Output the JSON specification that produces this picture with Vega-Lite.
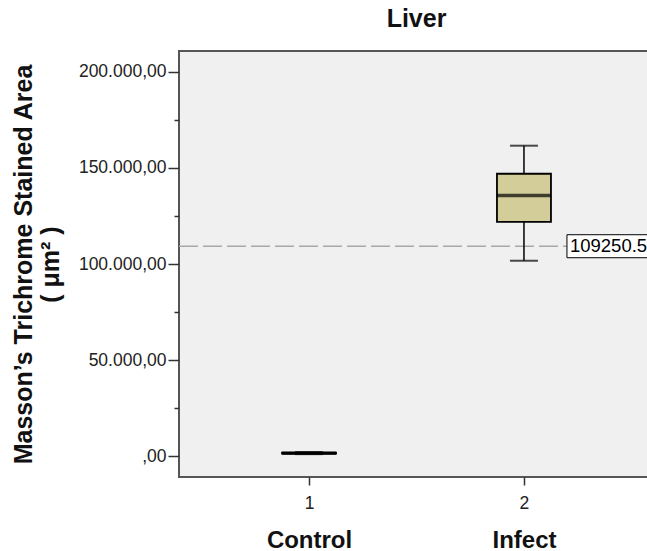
{
  "$schema": "https://vega.github.io/schema/vega-lite/v6.json",
  "width": 475,
  "height": 426,
  "autosize": {"type": "none"},
  "padding": {"left": 179, "top": 51, "right": -7, "bottom": 74},
  "background": "white",
  "config": {
    "view": {"fill": "#F0F0F0", "stroke": "#555555", "strokeWidth": 2},
    "font": "Liberation Sans"
  },
  "title": {"text": "Liver", "fontSize": 25, "fontWeight": "bold", "font": "Liberation Sans", "color": "#111111", "offset": 19, "anchor": "middle"},
  "datasets": {
    "boxes": [
      {"code": 1, "name": "Control", "min": 1000, "q1": 1300, "median": 1500, "q3": 1800, "max": 2100},
      {"code": 2, "name": "Infect", "min": 101700, "q1": 121900, "median": 135600, "q3": 147000, "max": 161600}
    ],
    "ref": [{"ref": 109250.59}]
  },
  "layer": [
    {
      "layer": [
        {
          "data": {"name": "ref"},
          "mark": {"type": "rule", "color": "#A8A8A8", "strokeWidth": 1.5, "strokeDash": [19, 5]},
          "encoding": {
            "y": {
              "field": "ref", "type": "quantitative",
              "scale": {"domain": [-10900, 210900], "nice": false, "zero": false},
              "axis": {
                "title": ["Masson’s Trichrome Stained Area", "( μm² )"],
                "titleFontSize": 25, "titleFontWeight": "bold", "titleColor": "#111111", "titleFont": "Liberation Sans",
                "titleX": -156, "titleY": 213, "titleAngle": -90, "titleAlign": "center", "titleBaseline": "middle", "titleLineHeight": 27,
                "values": [0, 25000, 50000, 75000, 100000, 125000, 150000, 175000, 200000],
                "labelExpr": "datum.value % 50000 === 0 ? (datum.value === 0 ? ',00' : format(datum.value / 1000, 'd') + '.000,00') : ''",
                "tickSize": {"condition": {"test": "datum.value % 50000 === 0", "value": 11}, "value": 5},
                "tickColor": "#333333", "tickWidth": 1.5,
                "labelFontSize": 17.5, "labelColor": "#222222", "labelPadding": 2,
                "domain": false, "grid": false
              }
            }
          }
        },
        {
          "data": {"name": "boxes"},
          "mark": {"type": "rule", "color": "black", "strokeWidth": 1.5},
          "encoding": {
            "x": {
              "field": "code", "type": "ordinal",
              "scale": {"type": "point", "padding": 0.605},
              "axis": {"title": null, "labelAngle": 0, "tickSize": 8, "tickColor": "#333333", "tickWidth": 1.5, "labelFontSize": 17.5, "labelColor": "#222222", "labelPadding": 9, "domain": false, "grid": false}
            },
            "y": {"field": "min", "type": "quantitative"},
            "y2": {"field": "max"}
          }
        },
        {
          "data": {"name": "boxes"},
          "mark": {"type": "tick", "color": "black", "size": 28, "thickness": 2},
          "encoding": {
            "x": {"field": "code", "type": "ordinal"},
            "y": {"field": "min", "type": "quantitative"}
          }
        },
        {
          "data": {"name": "boxes"},
          "mark": {"type": "tick", "color": "black", "size": 28, "thickness": 2},
          "encoding": {
            "x": {"field": "code", "type": "ordinal"},
            "y": {"field": "max", "type": "quantitative"}
          }
        },
        {
          "data": {"name": "boxes"},
          "mark": {"type": "bar", "fill": "#D3CE99", "stroke": "black", "strokeWidth": 1.8, "size": 54},
          "encoding": {
            "x": {"field": "code", "type": "ordinal"},
            "y": {"field": "q1", "type": "quantitative"},
            "y2": {"field": "q3"}
          }
        },
        {
          "data": {"name": "boxes"},
          "mark": {"type": "tick", "color": "black", "size": 54, "thickness": 3.5},
          "encoding": {
            "x": {"field": "code", "type": "ordinal"},
            "y": {"field": "median", "type": "quantitative"}
          }
        },
        {
          "data": {"name": "ref"},
          "mark": {"type": "point", "shape": "M0,-1H8V1H0Z", "size": 529, "filled": true, "fill": "white", "stroke": "black", "strokeWidth": 1, "opacity": 1, "xOffset": 43},
          "encoding": {
            "x": {"datum": 2, "type": "ordinal"},
            "y": {"field": "ref", "type": "quantitative"}
          }
        },
        {
          "data": {"name": "ref"},
          "mark": {"type": "text", "align": "left", "baseline": "middle", "dx": 46, "fontSize": 18.5, "color": "black", "font": "Liberation Sans"},
          "encoding": {
            "x": {"datum": 2, "type": "ordinal"},
            "y": {"field": "ref", "type": "quantitative"},
            "text": {"field": "ref", "type": "quantitative", "format": ".2f"}
          }
        }
      ]
    },
    {
      "data": {"name": "boxes"},
      "mark": {"type": "tick", "opacity": 0},
      "encoding": {
        "x": {
          "field": "name", "type": "nominal", "sort": ["Control", "Infect"],
          "scale": {"type": "point", "padding": 0.605},
          "axis": {"orient": "bottom", "title": null, "labelAngle": 0, "ticks": false, "domain": false, "grid": false, "labelFontSize": 24, "labelFontWeight": "bold", "labelColor": "#111111", "labelPadding": 51}
        },
        "y": {"field": "median", "type": "quantitative"}
      }
    }
  ],
  "resolve": {"scale": {"x": "independent"}}
}
